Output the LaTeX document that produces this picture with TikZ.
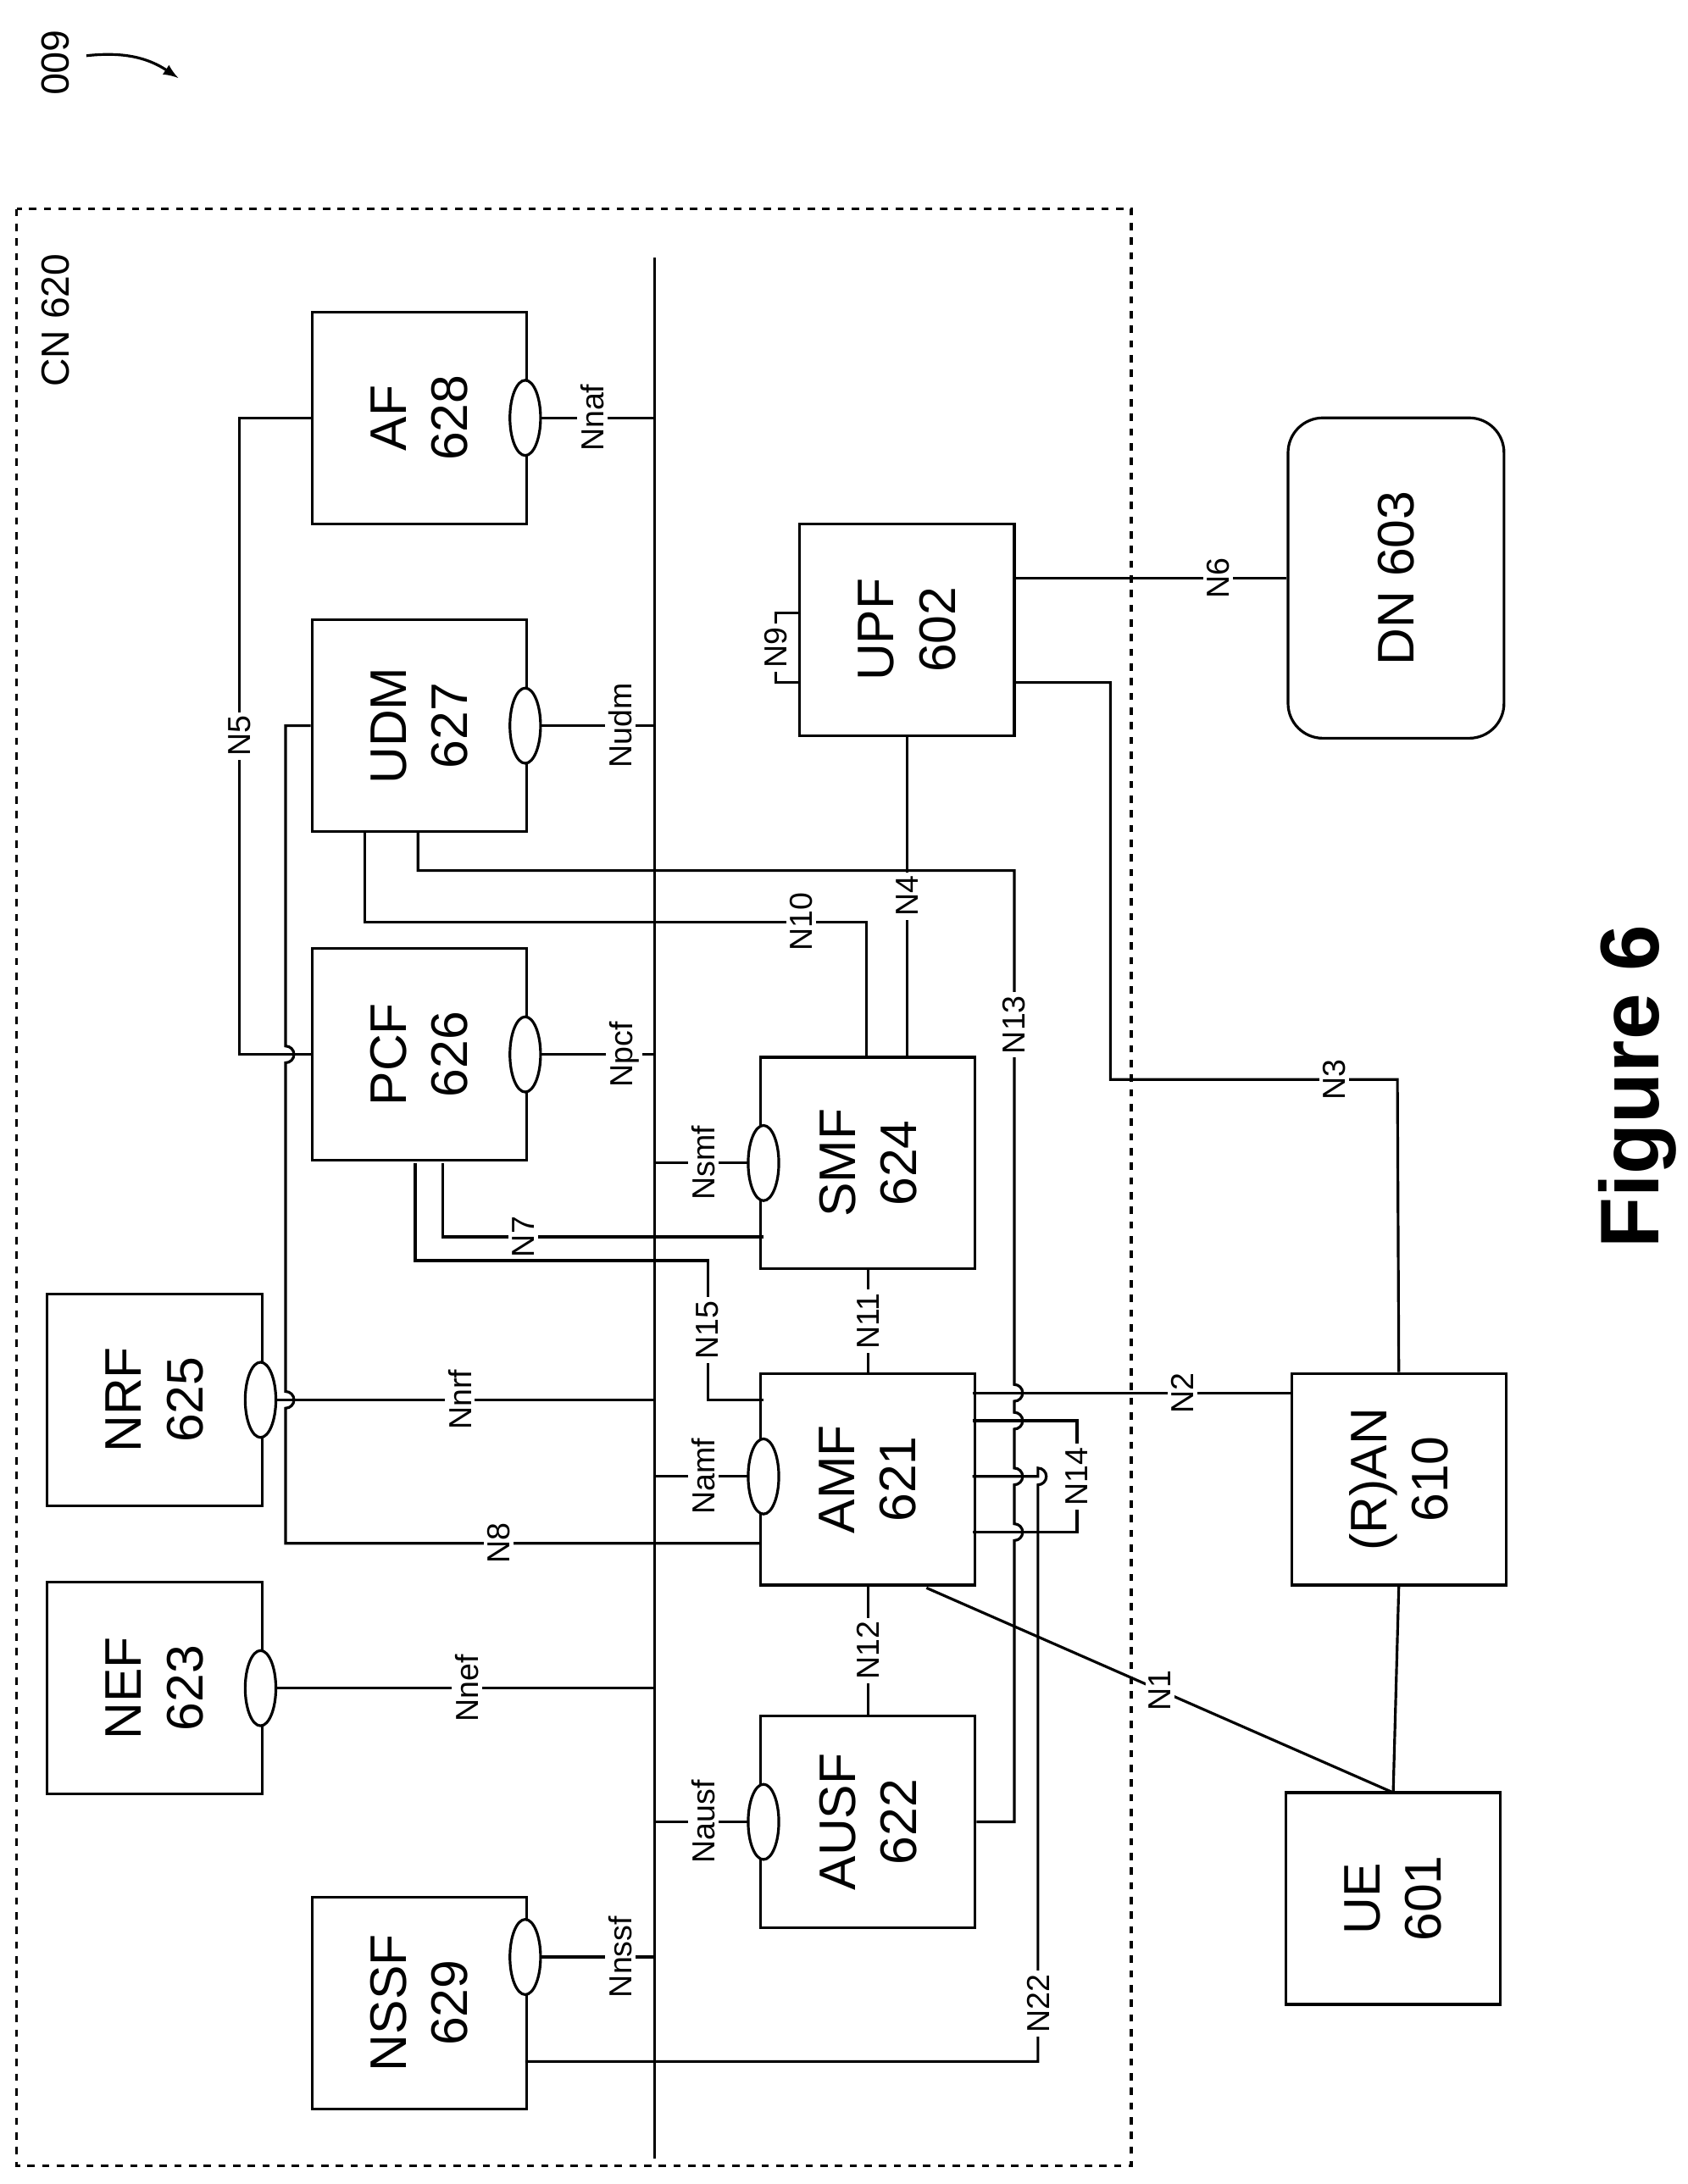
\documentclass[tikz,border=0pt]{standalone}
\usepackage{fontspec}
\setmainfont{Liberation Sans}
\usetikzlibrary{shapes.geometric}
\begin{document}
\begin{tikzpicture}[x=0.02cm,y=-0.02cm,line width=1.1pt,
  box/.style={draw,minimum width=0.02cm*152,minimum height=0.02cm*154,align=center,
    font=\fontsize{21}{25}\selectfont,rotate=90,inner sep=0pt},
  oval/.style={draw,fill=white,ellipse,minimum width=0.02cm*22,minimum height=0.02cm*54,inner sep=0pt},
  lbl/.style={fill=white,rotate=90,inner sep=1.5pt,font=\fontsize{13}{15}\selectfont}]
\useasboundingbox (0,0) rectangle (1211,1568);
\node[rotate=-90,font=\fontsize{16}{18}\selectfont] (fig) at (40,45) {600};
\draw[->,>=latex] (62,40) to[bend left=20] (128,56);
\draw[dashed] (12,150) rectangle (812,1555);
\node[rotate=90,font=\fontsize{16}{18}\selectfont] (cn) at (40,230) {CN 620};
\draw (470,185) -- (470,1550);
% network functions
\node[box] (AF) at (301,300) {AF\\628};
\node[box] (UDM) at (301,521) {UDM\\627};
\node[box] (PCF) at (301,757) {PCF\\626};
\node[box] (NRF) at (111,1005) {NRF\\625};
\node[box] (NEF) at (111,1212) {NEF\\623};
\node[box] (NSSF) at (301,1438) {NSSF\\629};
\node[box] (SMF) at (623,835) {SMF\\624};
\node[box] (AMF) at (623,1062) {AMF\\621};
\node[box] (AUSF) at (623,1308) {AUSF\\622};
\node[box] (UPF) at (651,452) {UPF\\602};
\node[box,rounded corners=0.5cm,minimum width=0.02cm*230,minimum height=0.02cm*155] (DN) at (1002,415) {DN 603};
\node[box] (RAN) at (1004,1062) {(R)AN\\610};
\node[box] (UE) at (1000,1363) {UE\\601};
\node[rotate=90,font=\fontsize{34}{38}\selectfont\bfseries] (title) at (1175,780) {Figure 6};
% service interfaces
\foreach \n/\x/\y/\t/\lx in {oAF/377/300/Nnaf/425,oUDM/377/521/Nudm/445,oPCF/377/757/Npcf/448,
  oNRF/187/1005/Nnrf/330,oNEF/187/1212/Nnef/335,oNSSF/377/1405/Nnssf/445}{
  \draw (\x,\y) -- (470,\y);
  \node[oval] (\n) at (\x,\y) {};
  \node[lbl] (l\n) at (\lx,\y) {\t};
}
\foreach \n/\y/\t in {oSMF/835/Nsmf,oAMF/1060/Namf,oAUSF/1308/Nausf}{
  \draw (470,\y) -- (548,\y);
  \node[oval] (\n) at (548,\y) {};
  \node[lbl] (l\n) at (505,\y) {\t};
}
% reference points
\draw (AF.north) -- (172,300) -- node[lbl]{N5} (172,757) -- (PCF.north);
\draw (AMF.north|-0,1108) -- node[lbl,pos=0.55]{N8} (205,1108) -- (205,1011)
  arc[start angle=90,end angle=-90,radius=6] -- (205,763) arc[start angle=90,end angle=-90,radius=6]
  -- (205,521) -- (UDM.north);
\draw (262,598) -- (262,662) -- node[lbl,pos=0.87]{N10} (622,662) -- (622,758);
\draw (300,598) -- (300,625) -- (728,625) -- node[lbl,pos=0.3]{N13} (728,994)
  arc[start angle=-90,end angle=90,radius=6] -- (728,1014) arc[start angle=-90,end angle=90,radius=6]
  -- (728,1054) arc[start angle=-90,end angle=90,radius=6] -- (728,1094)
  arc[start angle=-90,end angle=90,radius=6] -- (728,1308) -- (AUSF.south);
\draw (UPF.west|-0,758) -- node[lbl]{N4} (UPF.west);
\draw (727,490) -- (797,490) -- (797,775) -- node[lbl,pos=0.78]{N3} (1003,775) -- (RAN.east);
\draw (727,415) -- node[lbl,pos=0.75]{N6} (DN.north);
\draw (575,440) -- (557,440) -- node[lbl]{N9} (557,490) -- (575,490);
\draw (318,835) -- (318,888) -- node[lbl,pos=0.25]{N7} (548,888);
\draw (298,835) -- (298,905) -- (508,905) -- node[lbl]{N15} (508,1005) -- (548,1005);
\draw (SMF.west) -- node[lbl]{N11} (AMF.east);
\draw (AMF.west) -- node[lbl]{N12} (AUSF.east);
\draw (698,1000) -- node[lbl,pos=0.66]{N2} (RAN.north|-0,1000);
\draw (698,1020) -- (773,1020) -- node[lbl]{N14} (773,1100) -- (698,1100);
\draw (377,1480) -- (745,1480) -- node[lbl,pos=0.1]{N22} (745,1066)
  arc[start angle=90,end angle=-90,radius=6] -- (745,1060) -- (698,1060);
\draw (665,1140) -- node[lbl,pos=0.5]{N1} (1000,1287);
\draw (RAN.west) -- (UE.east);
\end{tikzpicture}
\end{document}
